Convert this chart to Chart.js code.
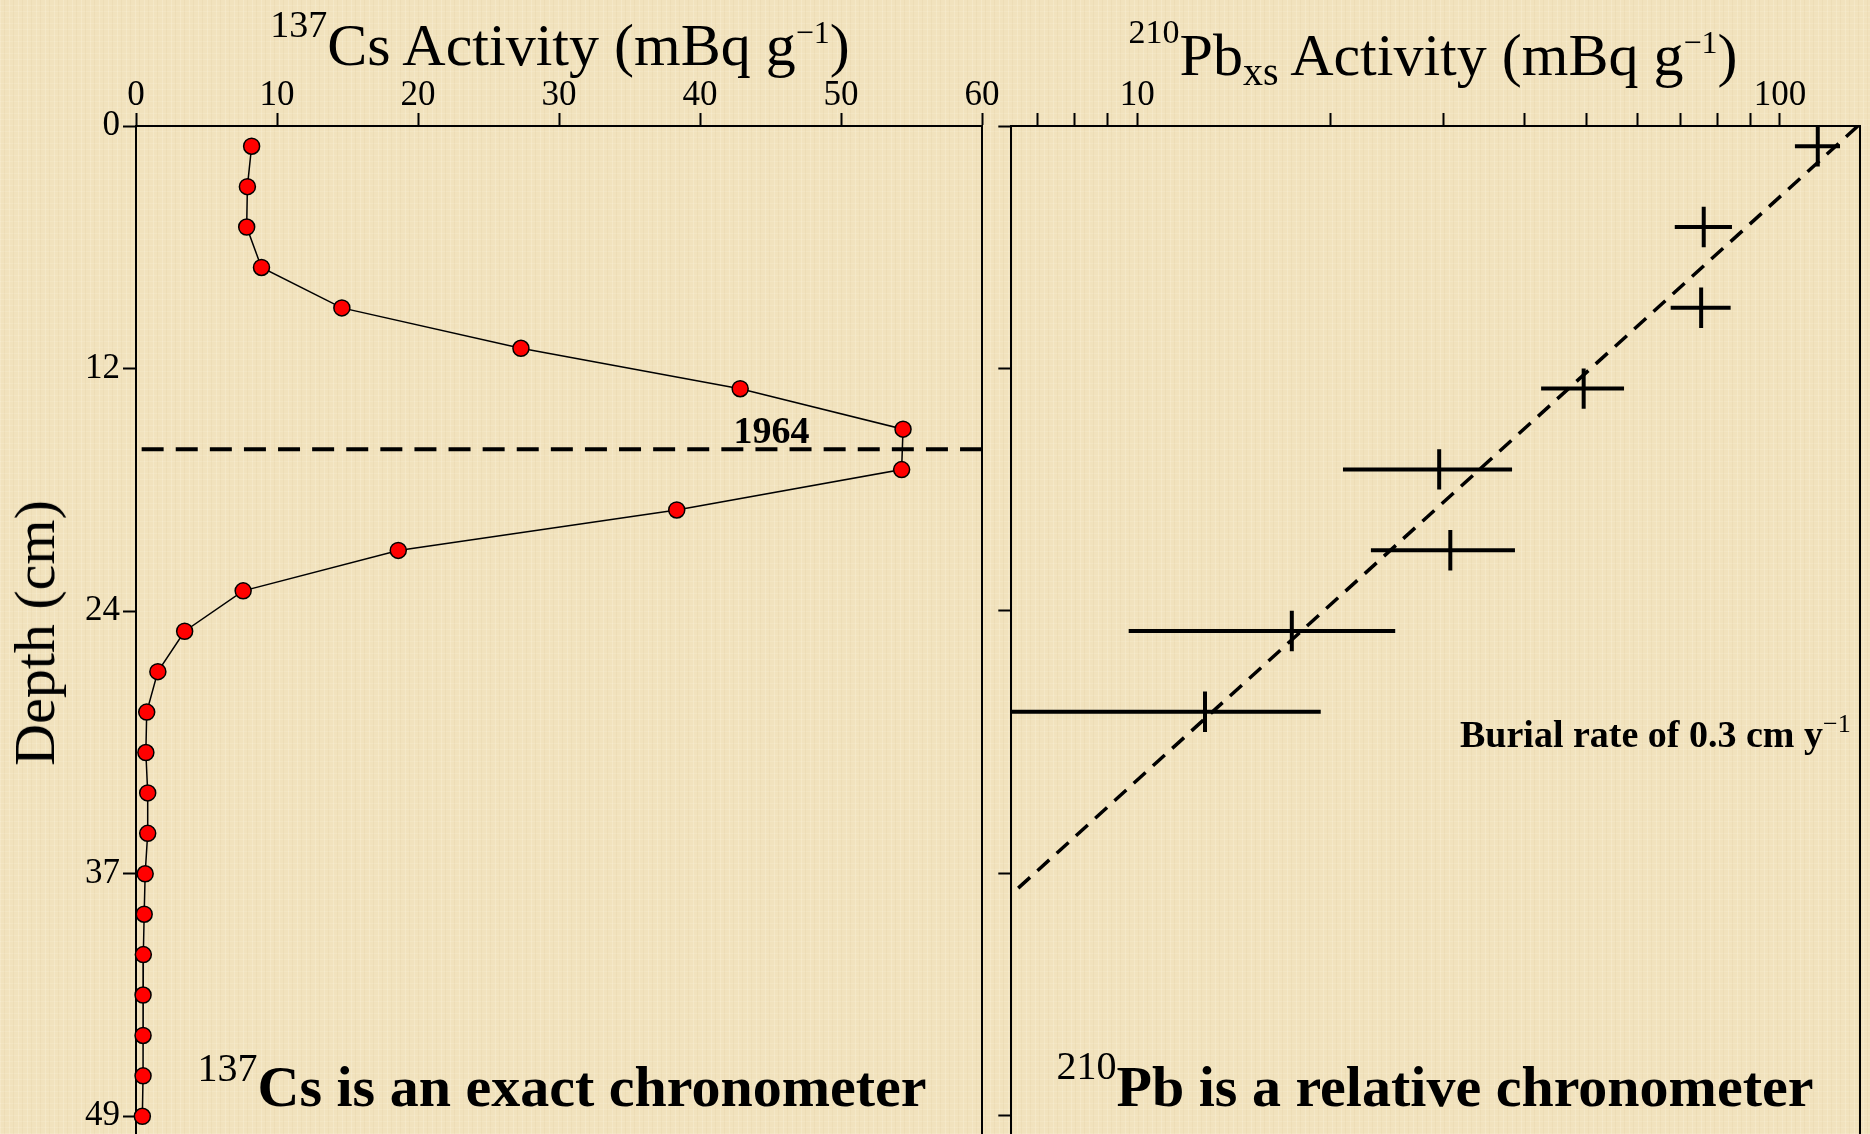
<!DOCTYPE html>
<html>
<head>
<meta charset="utf-8">
<title>137Cs and 210Pb activity profiles</title>
<script src="https://cdn.jsdelivr.net/npm/chart.js@4.4.1/dist/chart.umd.min.js"></script>
<style>
  html, body { margin: 0; padding: 0; width: 1870px; height: 1134px; overflow: hidden; }
  body {
    position: relative;
    background-color: #F1E2BD;
    background-image:
      repeating-linear-gradient(90deg, rgba(255,250,232,0.22) 0 1px, rgba(0,0,0,0) 1px 4px, rgba(190,160,100,0.08) 4px 5px, rgba(0,0,0,0) 5px 9px),
      repeating-linear-gradient(0deg, rgba(255,250,232,0.15) 0 1px, rgba(0,0,0,0) 1px 6px);
    font-family: "Liberation Serif", "Times New Roman", serif;
  }
  canvas { position: absolute; top: 0; }
  #csChart { left: 0; }
  #pbChart { left: 988px; }
  .lbl { position: absolute; line-height: 1; white-space: nowrap; color: #000; }
  .sup, .sub { position: relative; font-weight: normal; line-height: 1; }
  .bold { font-weight: bold; }
</style>
</head>
<body>
<!-- canvas heights differ because the left depth axis keeps a little label padding at the bottom -->
<canvas id="csChart" width="1000" height="1146"></canvas>
<canvas id="pbChart" width="882" height="1140"></canvas>

<div class="lbl" style="left:560px; top:14.75px; font-size:60px; transform:translateX(-50%)"><span class="sup" style="font-size:38px; top:-28px">137</span>Cs Activity (mBq g<span class="sup" style="font-size:32px; top:-22px">−1</span>)</div>
<div class="lbl" style="left:1433px; top:24.75px; font-size:60px; transform:translateX(-50%)"><span class="sup" style="font-size:34px; top:-32px">210</span>Pb<span class="sub" style="font-size:40px; top:10px">xs</span> Activity (mBq g<span class="sup" style="font-size:32px; top:-22px">−1</span>)</div>
<div class="lbl" style="left:35.4px; top:632.5px; font-size:58px; transform:translate(-50%,-50%) rotate(-90deg)">Depth (cm)</div>
<div class="lbl bold" style="left:771.5px; top:411px; font-size:38px; transform:translateX(-50%)">1964</div>
<div class="lbl bold" style="left:1460px; top:715px; font-size:38px">Burial rate of 0.3 cm y<span class="sup" style="font-size:26px; top:-15px">−1</span></div>
<div class="lbl" style="left:562px; top:1058.4px; font-size:58px; transform:translateX(-50%)"><span class="sup" style="font-size:40px; top:-25px">137</span><span class="bold">Cs is an exact chronometer</span></div>
<div class="lbl" style="left:1435px; top:1058.4px; font-size:58px; transform:translateX(-50%)"><span class="sup" style="font-size:40px; top:-27px">210</span><span class="bold">Pb is a relative chronometer</span></div>

<script>
// 137Cs profile (depth in cm, activity in mBq/g)
const csDepth = [1, 3, 5, 7, 9, 11, 13, 15, 17, 19, 21, 23, 25, 27, 29, 31, 33, 35, 37, 39, 41, 43, 45, 47, 49];
const csActivity = [8.2, 7.9, 7.85, 8.9, 14.6, 27.3, 42.85, 54.4, 54.3, 38.35, 18.6, 7.6, 3.45, 1.55, 0.76,
                    0.7, 0.83, 0.83, 0.65, 0.58, 0.52, 0.5, 0.5, 0.5, 0.45];
// 1964 fallout peak marker
const datingDepth = [16, 16];
const datingActivity = [0.4, 60];

// 210Pb excess profile with error bars
const pbDepth = [1, 5, 9, 13, 17, 21, 25, 29];
const pbTop = [0, 4, 8, 12, 16, 20, 24, 28];
const pbBottom = [2, 6, 10, 14, 18, 22, 26, 30];
const pbActivity = [114.5, 76.1, 75.4, 49.5, 29.5, 30.7, 17.4, 12.75];
const pbLow = [105.5, 68.6, 67.6, 42.5, 20.9, 23.1, 9.7, 5.5];
const pbHigh = [124, 84.2, 83.8, 57.2, 38.3, 38.7, 25.2, 19.3];
// fitted decay line
const fitDepth = [0, 38.04];
const fitActivity = [132.2, 6.37];

// ticks
const csTicks = [0, 10, 20, 30, 40, 50, 60];
const depthTicks = [0, 12, 24, 37, 49];
const depthTickLabels = ['0', '12', '24', '37', '49'];
const pbTicks = [7, 8, 9, 10, 20, 30, 40, 50, 60, 70, 80, 90, 100];
const pbTickLabels = ['', '', '', '10', '', '', '', '', '', '', '', '', '100'];

const serif = '"Liberation Serif", "Times New Roman", serif';
const black = '#000';
Chart.defaults.font.family = serif;
const tickFont = { family: serif, size: 35, lineHeight: 1 };

const tickGrid = { drawOnChartArea: false, drawTicks: true, tickLength: 13, tickWidth: 2, color: black };
const axisBorder = { display: true, color: black, width: 2 };

function depthAxis(showLabels, width) {
    return {
        type: 'linear', reverse: true, min: 0, max: 50, bounds: 'data',
        afterBuildTicks: s => { s.ticks = depthTicks.map(v => ({ value: v })); },
        afterFit: s => { s.width = width; s.paddingTop = 0; s.paddingBottom = 0; },
        ticks: { display: showLabels, font: tickFont, color: black, padding: 3, autoSkip: false,
                 callback: (v, i) => depthTickLabels[i] },
        grid: tickGrid,
        border: axisBorder
    };
}

// plain right-hand frame line of each panel
const edgeAxis = {
    type: 'linear', position: 'right', display: true,
    grid: { display: false }, ticks: { display: false },
    border: axisBorder,
    afterFit: s => { s.width = 0; }
};

const common = {
    responsive: false,
    animation: false,
    events: [],
    plugins: { legend: { display: false }, tooltip: { enabled: false } }
};

new Chart(document.getElementById('csChart'), {
    type: 'scatter',
    data: {
        datasets: [
            {
                label: '137Cs',
                data: csDepth.map((d, i) => ({ x: csActivity[i], y: d })),
                showLine: true,
                borderColor: black,
                borderWidth: 1.5,
                pointRadius: 8,
                pointBackgroundColor: '#FF0000',
                pointBorderColor: black,
                pointBorderWidth: 1.5,
                clip: false,
                order: 1
            },
            {
                label: '1964',
                data: datingActivity.map((x, i) => ({ x: x, y: datingDepth[i] })),
                showLine: true,
                borderColor: black,
                borderWidth: 4,
                borderDash: [22, 12.1],
                pointRadius: 0,
                order: 2
            }
        ]
    },
    options: Object.assign({}, common, {
        layout: { padding: { left: 0, right: 18, top: 0, bottom: 4 } },
        scales: {
            x: {
                type: 'linear', position: 'top', min: 0, max: 60, bounds: 'data',
                afterBuildTicks: s => { s.ticks = csTicks.map(v => ({ value: v })); },
                afterFit: s => { s.height = 126; },
                ticks: { font: tickFont, color: black, padding: 0, maxRotation: 0, autoSkip: false },
                grid: tickGrid,
                border: axisBorder
            },
            y: depthAxis(true, 136),
            yEdge: edgeAxis
        }
    })
});

const pbSets = [];
pbDepth.forEach((d, i) => {
    pbSets.push({
        data: [{ x: pbLow[i], y: d }, { x: pbHigh[i], y: d }],
        showLine: true, borderColor: black, borderWidth: 4, pointRadius: 0, clip: 0
    });
    pbSets.push({
        data: [{ x: pbActivity[i], y: pbTop[i] }, { x: pbActivity[i], y: pbBottom[i] }],
        showLine: true, borderColor: black, borderWidth: 4, pointRadius: 0, clip: 0
    });
});
pbSets.push({
    label: 'fit',
    data: fitActivity.map((x, i) => ({ x: x, y: fitDepth[i] })),
    showLine: true, borderColor: black, borderWidth: 3.5, borderDash: [16, 10], pointRadius: 0, clip: 0
});

new Chart(document.getElementById('pbChart'), {
    type: 'scatter',
    data: { datasets: pbSets },
    options: Object.assign({}, common, {
        layout: { padding: { left: 0, right: 10, top: 0, bottom: 4 } },
        scales: {
            x: {
                type: 'logarithmic', position: 'top', min: 6.37, max: 133.2, bounds: 'data',
                afterBuildTicks: s => { s.ticks = pbTicks.map(v => ({ value: v })); },
                afterFit: s => { s.height = 126; },
                ticks: { font: tickFont, color: black, padding: 0, maxRotation: 0, autoSkip: false,
                         callback: (v, i) => pbTickLabels[i] },
                grid: tickGrid,
                border: axisBorder
            },
            y: depthAxis(false, 23.3),
            yEdge: edgeAxis
        }
    })
});
</script>
</body>
</html>
